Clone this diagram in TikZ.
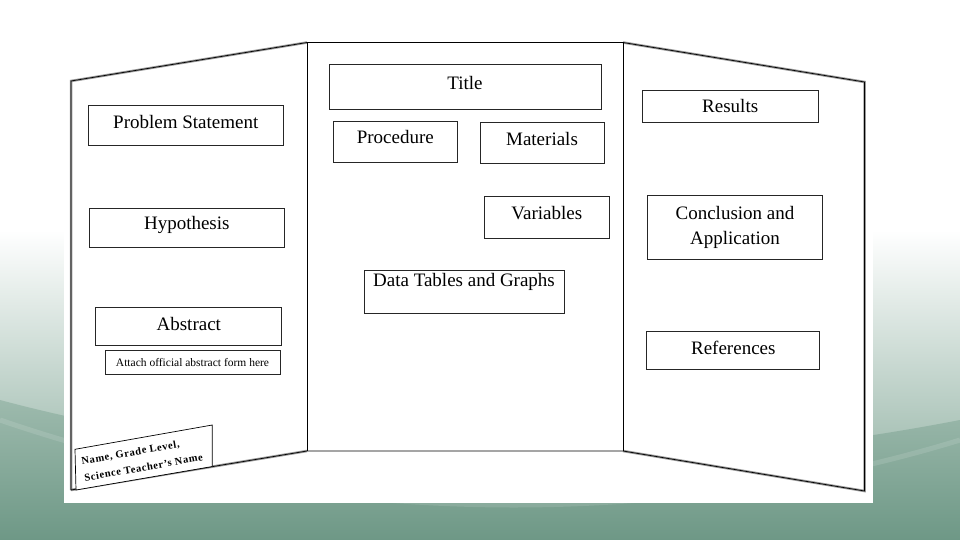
\documentclass[tikz,border=0pt]{standalone}
\usepackage{fontspec}
\setmainfont{Liberation Serif}
\usepackage{tikz}

\definecolor{slidedark}{HTML}{6E9886}
\definecolor{slidemid}{HTML}{9DBAAD}
\definecolor{edgegray}{gray}{0.6}

\tikzset{
  panel/.style={draw=black,line width=0.7pt},
  board/.style={draw=black!85,line width=0.8pt,fill=white,inner sep=2pt,
    font=\fontsize{19}{21}\selectfont},
  lift/.style={text height=12.6pt,text depth=#1},
}

\begin{document}
\begin{tikzpicture}[x=1pt,y=-1pt]
\useasboundingbox (0,0) rectangle (960,540);
% slide background
\fill[white] (0,0) rectangle (960,540);
\shade[top color=white,bottom color=slidemid] (0,230) rectangle (960,470);
\shade[top color=slidemid,bottom color=slidedark] (0,400) .. controls (300,480) and (650,480) .. (960,420) -- (960,540) -- (0,540) -- cycle;
\draw[white,opacity=0.12,line width=5pt] (0,420) .. controls (350,540) and (700,520) .. (960,440);
\fill[white] (64,23) rectangle (873,503);
% tri-fold board
\coordinate (ltl) at (71,81);
\coordinate (ctl) at (307,42.5);
\coordinate (ctr) at (623,42.5);
\coordinate (rtr) at (864.5,82);
\coordinate (rbr) at (864.5,491);
\coordinate (cbr) at (623,451);
\coordinate (cbl) at (307,451);
\coordinate (lbl) at (71,490);
\draw[edgegray,line width=2.5pt,yshift=-1.5pt] (lbl) -- (ltl) -- (ctl) (ctr) -- (rtr) -- (rbr) -- (cbr) (cbl) -- (lbl);
\draw[panel] (lbl) -- (ltl) -- (ctl) -- (ctr) -- (rtr) -- (rbr) -- (cbr) -- (cbl) -- cycle;
\draw[panel] (ctl) -- (cbl) (ctr) -- (cbr);
% labelled boxes
\foreach \nm/\x/\y/\bw/\bh/\td/\lbl in {
  prob/185.8/125/195/40/5/Problem Statement,
  hyp/186.8/227.8/195/39/9/Hypothesis,
  abs/188.8/326.2/186/38/4/Abstract,
  title/465/86.8/272/45/7/Title,
  proc/395.3/142.2/124/41/9/Procedure,
  mat/542/143.3/124/41/8.5/Materials,
  var/546.8/217.5/125/42/8.5/Variables,
  data/464/291.7/200/43/23/Data Tables and Graphs,
  res/730.2/106.5/176/32/0/Results,
  ref/733.3/350.5/173/38/4.5/References}
  \node[board,lift=\td pt,minimum width=\bw pt,minimum height=\bh pt] (\nm) at (\x,\y) {\lbl};
\node[board,align=center,font=\fontsize{19}{25}\selectfont,minimum width=175.4pt,minimum height=64.3pt] (concl) at (735,227.2) {Conclusion and\\Application};
\node[board,font=\fontsize{11.5}{13}\selectfont,text height=7.5pt,text depth=0pt,minimum width=175pt,minimum height=23.6pt] (attach) at (192.5,362.5) {Attach official abstract form here};
% name tag
\draw[panel,fill=white] (75,449.3) -- (212.3,425) -- (212.3,466.5) -- (76,490) -- cycle;
\node[rotate=10,align=left,inner sep=0pt,font=\fontsize{10.5}{17}\selectfont\bfseries\addfontfeatures{LetterSpace=6}] (namer) at (142,459) {Name, Grade Level,\\Science Teacher's Name};
\end{tikzpicture}
\end{document}
